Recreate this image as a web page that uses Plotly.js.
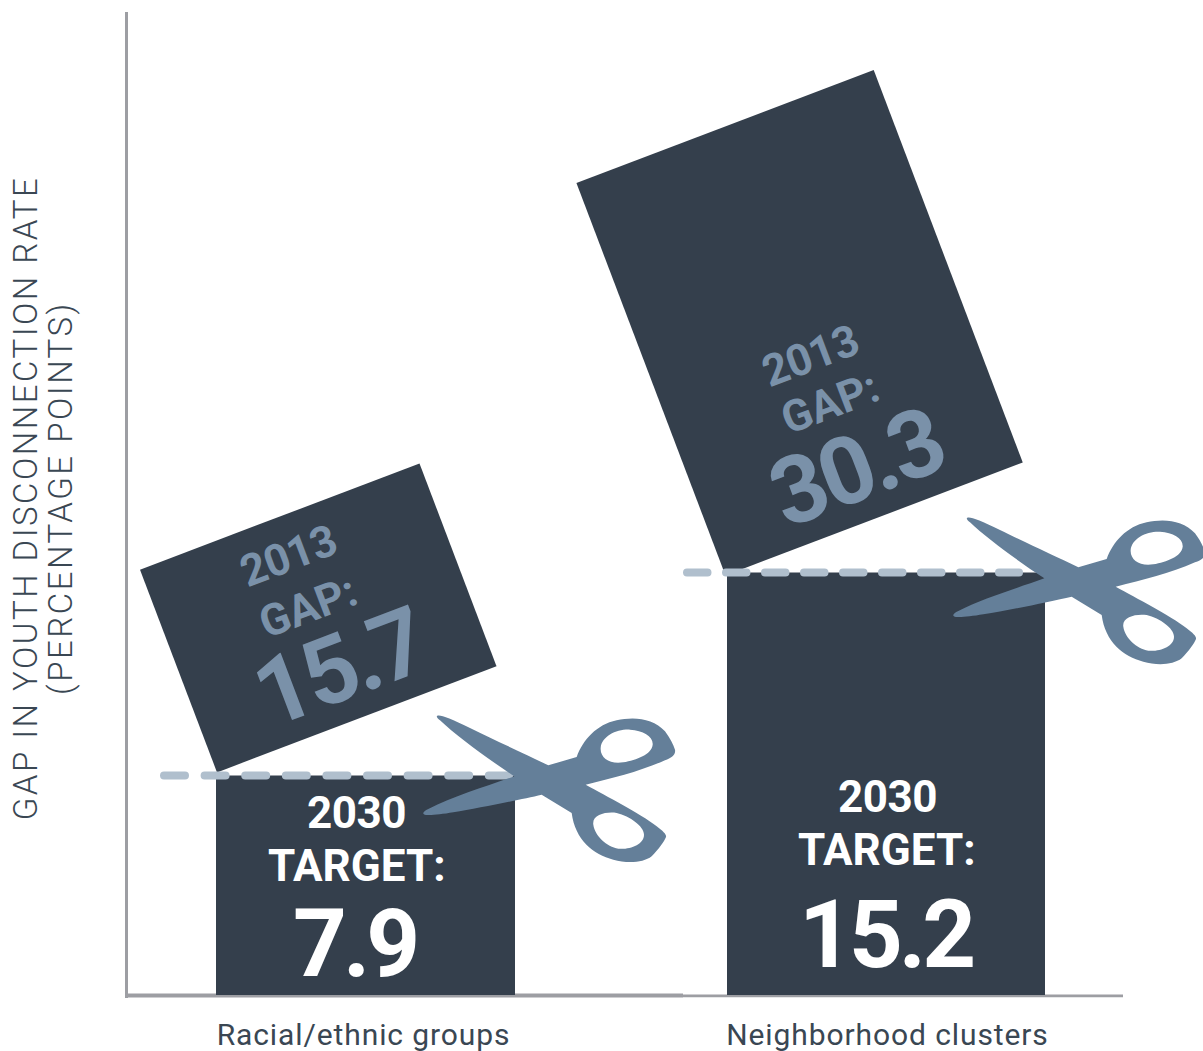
<!DOCTYPE html>
<html>
<head>
<meta charset="utf-8">
<script src="https://cdn.plot.ly/plotly-3.0.1.min.js"></script>
<style>
html,body{margin:0;padding:0;background:#fff;overflow:hidden}
#chart{width:1203px;height:1051px}
.scatterlayer .js-line{stroke-linecap:round !important}
.ytitle{letter-spacing:2.5px}
.xtick text{letter-spacing:0.9px}
.annotation[data-index="0"] text,.annotation[data-index="3"] text,.annotation[data-index="6"] text,.annotation[data-index="9"] text{letter-spacing:-0.5px}
.annotation[data-index="2"] text,.annotation[data-index="5"] text{letter-spacing:-4px}
.annotation[data-index="8"] text{letter-spacing:-4px}
.annotation[data-index="11"] text{letter-spacing:-3.5px}
</style>
</head>
<body>
<div id="chart"></div>
<script>
// ---- data ----
const categories = ["Racial/ethnic groups", "Neighborhood clusters"];
const target2030 = [7.9, 15.2];
const gap2013 = [15.7, 30.3];
const barCenters = [2.375, 7.58];
const barWidths = [2.99, 3.18];
const tickCenters = [2.355, 7.595];
const dashStarts = [0.36, 5.59];
const dashEnds = [3.81, 8.91];
const dashPatterns = ["21px,19.6px", "20.5px,18.5px"];
const targetLabel = ["2030", "TARGET:"];
const gapLabel = ["2013", "GAP:"];

// ---- scales ----
const PLOT = {left: 128, top: 12, width: 1075, height: 986};
const BASELINE_PX = 995;
const PX_PER_UNIT_Y = 27.8, PX_PER_UNIT_X = 100;
const xOf = px => (px - PLOT.left) / PX_PER_UNIT_X;
const yOf = py => (BASELINE_PX - py) / PX_PER_UNIT_Y;

// ---- colours ----
const DARK = "#343f4c", STEEL = "#647f99", PALE = "#b0bfcd", GAPTEXT = "#7a91a9", AXIS = "#9d9ea3", INK = "#3a4753";

// The piece above each target is the bar's cut-off remainder, tipped about the cut corner.
const TILT = 20.8 * Math.PI / 180;
const cutShiftPx = [[1, -3], [-1.5, 3]];
function cutPiece(i) {
  const w = barWidths[i] * PX_PER_UNIT_X;
  const h = (gap2013[i] - target2030[i]) * PX_PER_UNIT_Y;
  const x0 = (barCenters[i] - barWidths[i] / 2) * PX_PER_UNIT_X + cutShiftPx[i][0];
  const y0 = target2030[i] * PX_PER_UNIT_Y - cutShiftPx[i][1];
  const ux = Math.cos(TILT), uy = Math.sin(TILT);
  const c = [[0, 0], [w, 0], [w, h], [0, h], [0, 0]].map(([a, b]) => [
    x0 + a * ux - b * uy,
    y0 + a * uy + b * ux
  ]);
  return {x: c.map(p => p[0] / PX_PER_UNIT_X), y: c.map(p => p[1] / PX_PER_UNIT_Y)};
}

const traces = [{
  type: "bar",
  x: barCenters,
  y: target2030,
  width: barWidths,
  marker: {color: DARK, line: {width: 0}},
  hoverinfo: "skip"
}];
[0, 1].forEach(i => {
  const p = cutPiece(i);
  traces.push({type: "scatter", mode: "lines", x: p.x, y: p.y, fill: "toself", fillcolor: DARK,
    line: {width: 0, color: DARK}, hoverinfo: "skip"});
});
[0, 1].forEach(i => {
  traces.push({type: "scatter", mode: "lines",
    x: [dashStarts[i], dashEnds[i]],
    y: [target2030[i], target2030[i]],
    line: {color: PALE, width: 8, dash: dashPatterns[i]}, hoverinfo: "skip"});
});

// Scissors outline, drawn relative to the cut corner of each bar
const scissorOutline = "M52,48 C60,44 90,55 150,85 C220,120 320,165 385,197 L470,172 C490,120 530,75 590,62 C640,50 700,55 735,95 C750,115 760,135 765,150 C768,165 755,175 735,182 C660,215 580,235 497,255 C560,290 660,340 710,380 C730,395 740,405 738,412 C733,425 715,450 695,470 C670,490 620,492 580,480 C520,465 465,420 455,340 L365,285 C300,300 180,325 100,338 C60,345 25,348 15,345 C5,342 10,335 25,328 C100,290 200,260 283,230 C200,175 110,110 60,62 C52,55 48,50 52,48 Z " +
  "M542,145 C545,110 590,88 630,90 C670,92 700,110 698,135 C695,165 650,180 610,188 C570,195 540,175 542,145 Z " +
  "M520,375 C515,345 560,335 590,340 C630,350 672,380 672,405 C672,435 630,450 595,447 C560,440 525,410 520,375 Z";
const scissorPath = scissorOutline.replace(/(-?[\d.]+),(-?[\d.]+)/g, (m, a, b) =>
  ((+a - 285) / 3).toFixed(2) + "," + (-(+b - 220) / 3).toFixed(2));
const scissorNudgePx = [2.4, -2.6];

const shapes = [
  {type: "line", layer: "below", xref: "x", yref: "y", x0: xOf(683), x1: xOf(1123), y0: -0.03, y1: -0.03,
    line: {color: AXIS, width: 2.8}},
  {type: "line", layer: "below", xref: "x", yref: "y", x0: xOf(128), x1: xOf(683), y0: -0.02, y1: -0.02,
    line: {color: AXIS, width: 4}}
];
[0, 1].forEach(i => shapes.push({
  type: "path", layer: "above", xref: "x", yref: "y",
  xsizemode: "pixel", ysizemode: "pixel",
  xanchor: barCenters[i] + barWidths[i] / 2, yanchor: target2030[i] + scissorNudgePx[i] / PX_PER_UNIT_Y,
  path: scissorPath, fillrule: "evenodd", fillcolor: STEEL, line: {width: 0}
}));

const FONT = "Roboto, sans-serif";
function note(text, px, py, size, color, angle) {
  return {text, x: xOf(px), y: yOf(py), xref: "x", yref: "y", showarrow: false,
    xanchor: "center", yanchor: "middle", textangle: angle || 0,
    font: {family: FONT, size, color, weight: 700}};
}
const annotations = [
  note(targetLabel[0], 356.5, 813, 44, "#fff"),
  note(targetLabel[1], 357, 866, 44, "#fff"),
  note(String(target2030[0]), 354.5, 944, 94, "#fff"),
  note(targetLabel[0], 887, 797, 44, "#fff"),
  note(targetLabel[1], 887, 850, 44, "#fff"),
  note(String(target2030[1]), 885, 935, 94, "#fff"),
  note(gapLabel[0], 288, 556, 44, GAPTEXT, -20.8),
  note(gapLabel[1], 308, 607, 44, GAPTEXT, -20.8),
  note(String(gap2013[0]), 339, 668, 94, GAPTEXT, -20.8),
  note(gapLabel[0], 810, 356, 44, GAPTEXT, -20.8),
  note(gapLabel[1], 830, 403, 44, GAPTEXT, -20.8),
  note(String(gap2013[1]), 856, 468, 94, GAPTEXT, -20.8)
];

const layout = {
  width: 1203, height: 1051,
  margin: {l: PLOT.left, r: 0, t: PLOT.top, b: 1051 - PLOT.top - PLOT.height},
  paper_bgcolor: "#fff", plot_bgcolor: "#fff",
  showlegend: false,
  xaxis: {
    range: [0, PLOT.width / PX_PER_UNIT_X],
    tickmode: "array", tickvals: tickCenters, ticktext: categories,
    tickfont: {family: FONT, size: 30, color: INK, weight: 400},
    ticks: "", ticklabelstandoff: 16, showgrid: false, zeroline: false,
    showline: false, fixedrange: true
  },
  yaxis: {
    range: [yOf(PLOT.top + PLOT.height), yOf(PLOT.top)],
    showticklabels: false, ticks: "", showgrid: false, zeroline: false,
    showline: true, linecolor: AXIS, linewidth: 3, fixedrange: true,
    title: {
      text: "GAP IN YOUTH DISCONNECTION RATE<br>(PERCENTAGE POINTS)",
      font: {family: FONT, size: 33, color: INK, weight: 300}
    }
  },
  shapes, annotations
};

Plotly.newPlot("chart", traces, layout, {displayModeBar: false, staticPlot: true}).then(gd => {
  // tighter line spacing and placement of the two-line axis title
  const title = gd.querySelector(".ytitle");
  if (!title) return;
  const lines = title.querySelectorAll("tspan.line");
  if (lines[1]) lines[1].setAttribute("dy", "1.09em");
  title.setAttribute("transform", "translate(-30,-7) " + (title.getAttribute("transform") || ""));
});
</script>
</body>
</html>
